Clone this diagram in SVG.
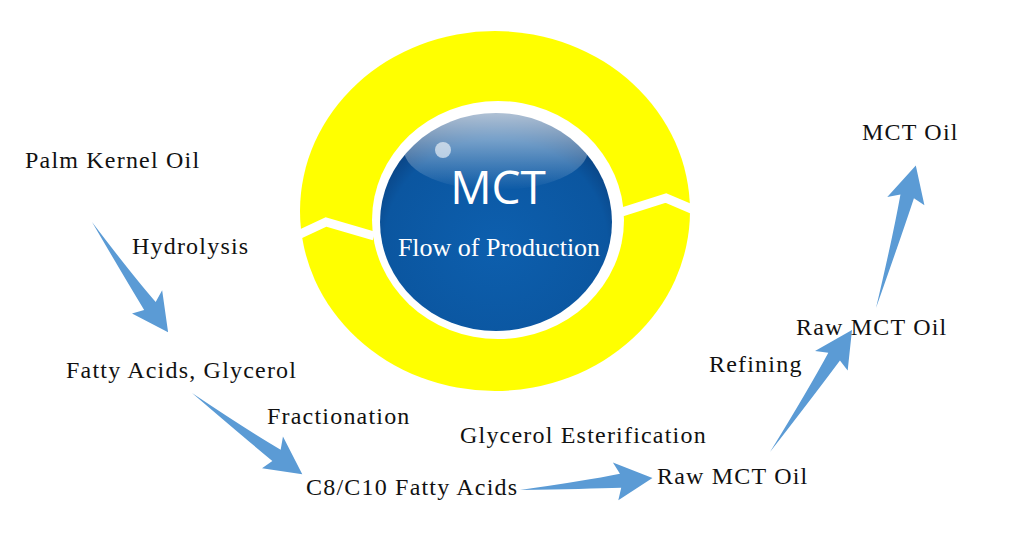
<svg xmlns="http://www.w3.org/2000/svg" width="1016" height="541" viewBox="0 0 1016 541">
<defs>
<radialGradient id="blue" cx="0.5" cy="0.6" r="0.6">
<stop offset="0" stop-color="#0d5fae"/><stop offset="0.8" stop-color="#0b56a0"/><stop offset="1" stop-color="#0a3f7c"/>
</radialGradient>
<linearGradient id="shine" x1="0" y1="0" x2="0" y2="1">
<stop offset="0" stop-color="#ffffff" stop-opacity="0.7"/><stop offset="1" stop-color="#ffffff" stop-opacity="0"/>
</linearGradient>
<style>
.t{font-family:"Liberation Serif",serif;font-size:24px;letter-spacing:1.2px;fill:#111}
.a{fill:#5b9bd5}
</style>
</defs>
<rect width="1016" height="541" fill="#fff"/>
<g id="ring">
<ellipse cx="495" cy="211" rx="195" ry="180" fill="#ffff00"/>
<ellipse cx="498" cy="220" rx="126" ry="119" fill="#fff"/>
<polyline points="296,236 326,222 374,236" fill="none" stroke="#fff" stroke-width="9"/>
<polyline points="622,212 666,198 694,210" fill="none" stroke="#fff" stroke-width="9"/>
</g>
<g id="center">
<ellipse cx="496" cy="222" rx="116" ry="109" fill="url(#blue)"/>
<ellipse cx="496" cy="150" rx="92" ry="40" fill="url(#shine)"/>
<circle cx="443" cy="150" r="8" fill="#fff" opacity="0.6"/>
<text x="498" y="204" text-anchor="middle" font-family="'Open Sans',sans-serif" font-size="46" fill="#fff">MCT</text>
<text x="499" y="256" text-anchor="middle" font-family="'Liberation Serif',serif" font-size="26" fill="#fff">Flow of Production</text>
</g>
<g id="connectors">
<path class="a" transform="translate(92,222) rotate(55.4)" d="M0,0 Q67,-3 102,-7 L96,-19 L134,0 L98,19 L102,7 Q67,5 0,0Z"/>
<path class="a" transform="translate(192,393) rotate(36.4)" d="M0,0 Q68,-3 105,-7 L99,-19 L137,0 L101,19 L105,7 Q68,5 0,0Z"/>
<path class="a" transform="translate(520,490) rotate(-5.2)" d="M0,0 Q66,-3 101,-7 L95,-19 L133,0 L97,19 L101,7 Q66,5 0,0Z"/>
<path class="a" transform="translate(770,452) rotate(-56.1)" d="M0,0 Q73,-3 115,-7 L109,-19 L147,0 L111,19 L115,7 Q73,5 0,0Z"/>
<path class="a" transform="translate(876,308) rotate(-74.4)" d="M0,0 Q74,-3 116,-7 L110,-19 L148,0 L112,19 L116,7 Q74,5 0,0Z"/>
</g>
<g id="palm"><text class="t" x="25" y="168">Palm Kernel Oil</text></g>
<g id="hydrolysis"><text class="t" x="132" y="254">Hydrolysis</text></g>
<g id="fatty"><text class="t" x="66" y="378">Fatty Acids, Glycerol</text></g>
<g id="fractionation"><text class="t" x="267" y="424">Fractionation</text></g>
<g id="c8"><text class="t" x="306" y="495">C8/C10 Fatty Acids</text></g>
<g id="ester"><text class="t" x="460" y="443">Glycerol Esterification</text></g>
<g id="raw1"><text class="t" x="657" y="484">Raw MCT Oil</text></g>
<g id="refining"><text class="t" x="709" y="372">Refining</text></g>
<g id="raw2"><text class="t" x="796" y="335">Raw MCT Oil</text></g>
<g id="mct"><text class="t" x="862" y="140">MCT Oil</text></g>
</svg>
